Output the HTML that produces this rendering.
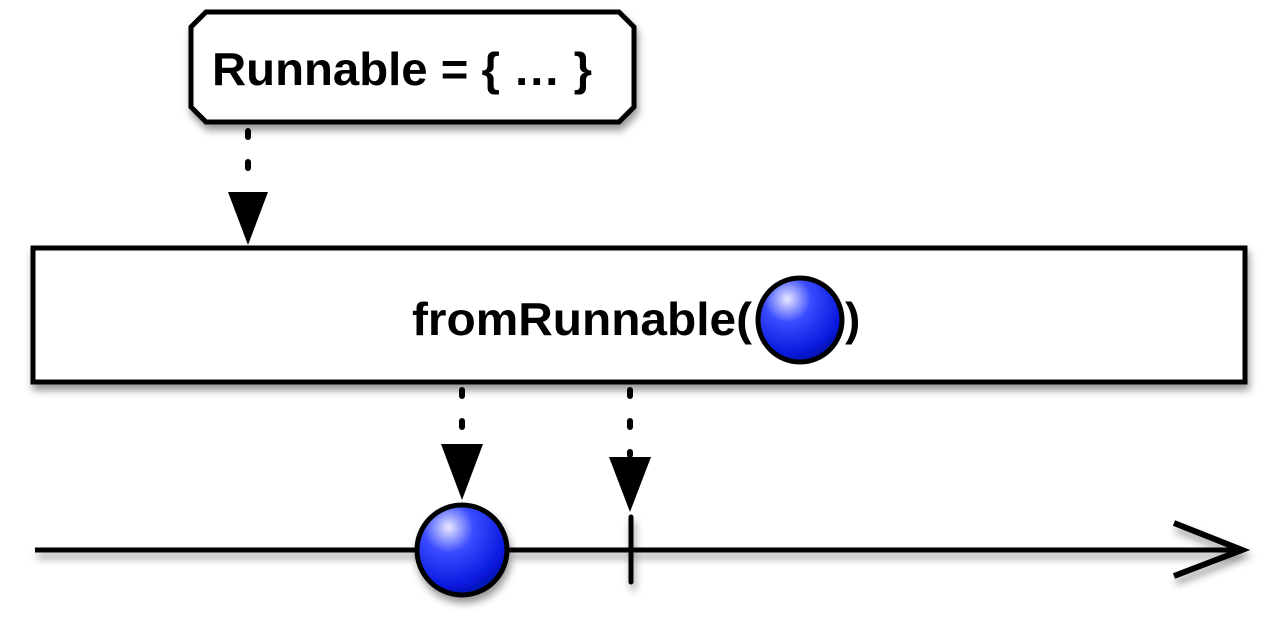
<!DOCTYPE html>
<html><head><meta charset="utf-8"><style>html,body{margin:0;padding:0;background:#fff;width:1280px;height:620px;overflow:hidden}</style></head>
<body>
<svg width="1280" height="620" viewBox="0 0 1280 620" xmlns="http://www.w3.org/2000/svg">
<defs>
<radialGradient id="ball" cx="0.35" cy="0.25" r="0.8">
<stop offset="0" stop-color="#e8e8ff"/>
<stop offset="0.35" stop-color="#3a4cff"/>
<stop offset="0.8" stop-color="#0a1ae0"/>
<stop offset="1" stop-color="#0010a0"/>
</radialGradient>
<filter id="sh" x="-10%" y="-10%" width="130%" height="140%"><feDropShadow dx="2" dy="6" stdDeviation="4" flood-color="#000" flood-opacity="0.4"/></filter>
</defs>
<g font-family="Liberation Sans, Arial, sans-serif" font-weight="bold">
<polygon filter="url(#sh)" points="206,12 619,12 634,27 634,107 619,122 206,122 191,107 191,27" fill="#fff" stroke="#000" stroke-width="5"/>
<text x="212" y="85" font-size="46" textLength="380" lengthAdjust="spacingAndGlyphs">Runnable = { … }</text>
<line x1="248" y1="131" x2="248" y2="192" stroke="#000" stroke-width="6" stroke-dasharray="6,25" stroke-linecap="round"/>
<polygon points="228,192 268,192 248,245" fill="#000"/>
<rect filter="url(#sh)" x="33" y="248" width="1212" height="134" fill="#fff" stroke="#000" stroke-width="5"/>
<text x="412" y="335" font-size="46" textLength="340" lengthAdjust="spacingAndGlyphs">fromRunnable(</text>
<circle cx="800" cy="320" r="42" fill="url(#ball)" stroke="#000" stroke-width="5"/>
<text x="845" y="335" font-size="46">)</text>
<line x1="462" y1="390" x2="462" y2="445" stroke="#000" stroke-width="6" stroke-dasharray="6,25" stroke-linecap="round"/>
<polygon points="441,444 483,444 462,500" fill="#000"/>
<line x1="630" y1="390" x2="630" y2="455" stroke="#000" stroke-width="6" stroke-dasharray="6,25" stroke-linecap="round"/>
<polygon points="609,457 651,457 630,512" fill="#000"/>
<g filter="url(#sh)">
<line x1="35" y1="550" x2="1240" y2="550" stroke="#000" stroke-width="5"/>
<polyline points="1174,523 1242,550 1174,576" fill="none" stroke="#000" stroke-width="6"/>
<line x1="631" y1="517" x2="631" y2="582" stroke="#000" stroke-width="5" stroke-linecap="round"/>
<circle cx="462" cy="550" r="45" fill="url(#ball)" stroke="#000" stroke-width="5"/>
</g>
</g>
</svg>
</body></html>
